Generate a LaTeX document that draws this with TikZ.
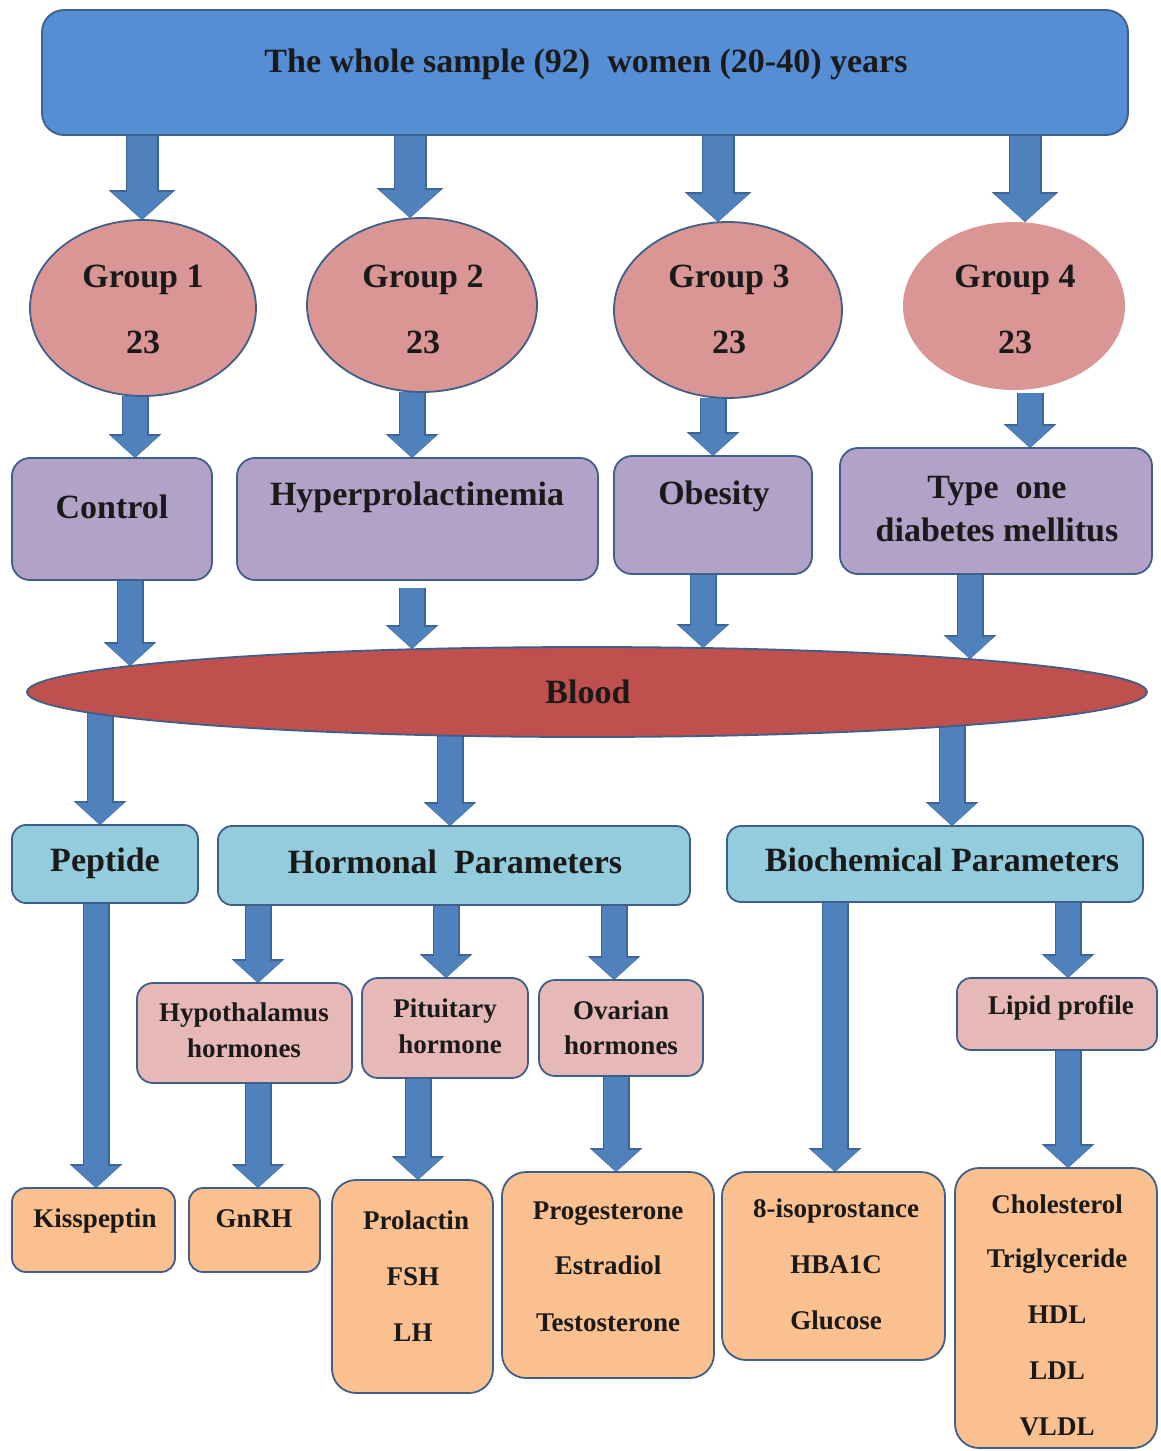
\documentclass[tikz,border=0pt]{standalone}
\usepackage{fontspec}
\setmainfont{Liberation Serif}
\usetikzlibrary{shapes.geometric,arrows.meta}
\definecolor{topblue}{HTML}{558ED5}
\definecolor{edgec}{HTML}{3E5F8A}
\definecolor{arrblue}{HTML}{4F81BD}
\definecolor{arrdark}{HTML}{3D6696}
\definecolor{grp}{HTML}{D99694}
\definecolor{purp}{HTML}{B3A2C7}
\definecolor{bloodc}{HTML}{C0504D}
\definecolor{lblue}{HTML}{93CDDD}
\definecolor{pinkc}{HTML}{E6B9B8}
\definecolor{orng}{HTML}{FAC090}
\definecolor{txtc}{HTML}{1A1A1A}
\pgfdeclarelayer{back}
\pgfdeclarelayer{bg}
\pgfsetlayers{back,bg,main}
\newcommand\myBig{\fontsize{34}{40}\selectfont\bfseries}
\newcommand\mySmall{\fontsize{27}{32}\selectfont\bfseries}
\newcommand\rbox[8]{\node[bx, fill=#2, rounded corners=#3pt, minimum width=#6pt, minimum height=#7pt, #8] (#1) at (#4,#5) {};}
\newcommand\tl[5]{\node[tx, font=#2] (#1) at (#3,#4) {#5};}
\newcommand\arA[2]{\draw[aAo] #1 -- #2; \draw[aA] #1 -- #2;}
\newcommand\arB[2]{\draw[aBo] #1 -- #2; \draw[aB] #1 -- #2;}
\begin{document}
\begin{tikzpicture}[x=1pt,y=-1pt,
  bx/.style={draw=edgec, line width=1.8pt, inner sep=0pt, outer sep=0pt},
  ell/.style={ellipse, draw=edgec, line width=1.8pt, inner sep=0pt, outer sep=0pt},
  tx/.style={anchor=base, inner sep=0pt, text=txtc},
  aA/.style={line width=30pt, draw=arrblue, -{Triangle[width=60pt,length=28pt,line width=0pt,color=arrblue]}},
  aAo/.style={line width=33pt, draw=arrdark, -{Triangle[width=67pt,length=30pt,line width=0pt,color=arrdark]}},
  aB/.style={line width=24pt, draw=arrblue, -{Triangle[width=47pt,length=22pt,line width=0pt,color=arrblue]}},
  aBo/.style={line width=27pt, draw=arrdark, -{Triangle[width=53pt,length=24pt,line width=0pt,color=arrdark]}}]
\useasboundingbox (0,0) rectangle (1160,1451);
\begin{pgfonlayer}{back}
\fill[white] (0,0) rectangle (1160,1451);
\end{pgfonlayer}

% ---- boxes ----
\rbox{top}{topblue}{22}{585}{72.5}{1086}{125}{}
\node[ell, fill=grp, minimum width=226pt, minimum height=176pt] (g1) at (143,308) {};
\node[ell, fill=grp, minimum width=230pt, minimum height=174pt] (g2) at (422,305) {};
\node[ell, fill=grp, minimum width=228pt, minimum height=176pt] (g3) at (728,310) {};
\node[ell, fill=grp, draw=none, minimum width=222pt, minimum height=168pt] (g4) at (1014,306) {};
\rbox{ctrl}{purp}{18}{112}{519}{200}{122}{}
\rbox{hyp}{purp}{18}{417.5}{519}{361}{122}{}
\rbox{obe}{purp}{18}{713}{515}{198}{118}{}
\rbox{tod}{purp}{18}{996}{511}{312}{126}{}
\node[ell, fill=bloodc, minimum width=1120pt, minimum height=90pt] (blood) at (587,692) {};
\rbox{pep}{lblue}{14}{105}{864}{186}{78}{}
\rbox{hor}{lblue}{14}{454}{865.5}{472}{79}{}
\rbox{bio}{lblue}{14}{935}{864}{416}{76}{}
\rbox{hyt}{pinkc}{16}{244.5}{1033}{215}{100}{}
\rbox{pit}{pinkc}{16}{445}{1028}{166}{100}{}
\rbox{ova}{pinkc}{16}{621}{1028}{164}{96}{}
\rbox{lip}{pinkc}{14}{1057}{1014}{200}{72}{}
\rbox{kis}{orng}{14}{93.5}{1230}{163}{84}{}
\rbox{gnr}{orng}{14}{254.5}{1230}{131}{84}{}
\rbox{pro}{orng}{24}{412.5}{1286.5}{161}{213}{}
\rbox{prg}{orng}{24}{608}{1275}{212}{206}{}
\rbox{iso}{orng}{24}{833.5}{1266}{223}{188}{}
\rbox{cho}{orng}{24}{1056}{1308}{202}{280}{}

% ---- texts ----
\tl{ttop}{\myBig}{586}{72}{The whole sample (92)\ \ women (20-40) years}
\tl{tg1a}{\myBig}{143}{287}{Group 1}
\tl{tg1b}{\myBig}{143}{353}{23}
\tl{tg2a}{\myBig}{423}{287}{Group 2}
\tl{tg2b}{\myBig}{423}{353}{23}
\tl{tg3a}{\myBig}{729}{287}{Group 3}
\tl{tg3b}{\myBig}{729}{353}{23}
\tl{tg4a}{\myBig}{1015}{287}{Group 4}
\tl{tg4b}{\myBig}{1015}{353}{23}
\tl{tctrl}{\myBig}{112}{518}{Control}
\tl{thyp}{\myBig}{417}{505}{Hyperprolactinemia}
\tl{tobe}{\myBig}{714}{504}{Obesity}
\tl{ttoda}{\myBig}{997}{498}{Type\ \ one}
\tl{ttodb}{\myBig}{997}{541}{diabetes mellitus}
\tl{tblood}{\myBig}{588}{703}{Blood}
\tl{tpep}{\myBig}{105}{871}{Peptide}
\tl{thor}{\myBig}{455}{873}{Hormonal\ \ Parameters}
\tl{tbio}{\myBig}{942}{871}{Biochemical Parameters}
\tl{thyta}{\mySmall}{244}{1021}{Hypothalamus}
\tl{thytb}{\mySmall}{244}{1057}{hormones}
\tl{tpita}{\mySmall}{445}{1017}{Pituitary}
\tl{tpitb}{\mySmall}{450}{1053}{hormone}
\tl{tovaa}{\mySmall}{621}{1019}{Ovarian}
\tl{tovab}{\mySmall}{621}{1054}{hormones}
\tl{tlip}{\mySmall}{1061}{1014}{Lipid profile}
\tl{tkis}{\mySmall}{95}{1227}{Kisspeptin}
\tl{tgnr}{\mySmall}{254}{1227}{GnRH}
\tl{tproa}{\mySmall}{416}{1229}{Prolactin}
\tl{tprob}{\mySmall}{413}{1285}{FSH}
\tl{tproc}{\mySmall}{413}{1341}{LH}
\tl{tprga}{\mySmall}{608}{1219}{Progesterone}
\tl{tprgb}{\mySmall}{608}{1274}{Estradiol}
\tl{tprgc}{\mySmall}{608}{1331}{Testosterone}
\tl{tisoa}{\mySmall}{836}{1217}{8-isoprostance}
\tl{tisob}{\mySmall}{836}{1273}{HBA1C}
\tl{tisoc}{\mySmall}{836}{1329}{Glucose}
\tl{tchoa}{\mySmall}{1057}{1213}{Cholesterol}
\tl{tchob}{\mySmall}{1057}{1267}{Triglyceride}
\tl{tchoc}{\mySmall}{1057}{1323}{HDL}
\tl{tchod}{\mySmall}{1057}{1379}{LDL}
\tl{tchoe}{\mySmall}{1057}{1435}{VLDL}

% ---- connector positions ----
\coordinate (xa1) at (142,0);
\coordinate (xa2) at (410,0);
\coordinate (xa3) at (718,0);
\coordinate (xa4) at (1025,0);
\coordinate (xb1) at (135,0);
\coordinate (xb2) at (412,0);
\coordinate (xb3) at (713,0);
\coordinate (xb4) at (1030,0);
\coordinate (xd1) at (100,0);
\coordinate (xd2) at (450,0);
\coordinate (xd3) at (952,0);
\coordinate (xe1) at (96,0);
\coordinate (xe2) at (258,0);
\coordinate (xe3) at (446,0);
\coordinate (xe4) at (614,0);
\coordinate (xe5) at (835,0);
\coordinate (xe6) at (1068,0);
\coordinate (xf2) at (418,0);
\coordinate (xf3) at (616,0);
\coordinate (bt1) at (130,666);
\coordinate (bt2) at (412,649);
\coordinate (bt3) at (703,648);
\coordinate (bt4) at (970,659);
\coordinate (hs) at ([yshift=-8pt]hyp.south);
\coordinate (g4s) at ([yshift=-3pt]g4.south);

\begin{pgfonlayer}{bg}
\arA{(top.south -| xa1)}{(g1.north -| xa1)}
\arA{(top.south -| xa2)}{(g2.north -| xa2)}
\arA{(top.south -| xa3)}{(g3.north -| xa3)}
\arA{(top.south -| xa4)}{(g4.north -| xa4)}
\arB{(g1.south -| xb1)}{(ctrl.north -| xb1)}
\arB{(g2.south -| xb2)}{(hyp.north -| xb2)}
\arB{(g3.south -| xb3)}{(obe.north -| xb3)}
\arB{(g4s -| xb4)}{(tod.north -| xb4)}
\arB{(ctrl.south -| bt1)}{(bt1)}
\arB{(hs -| bt2)}{(bt2)}
\arB{(obe.south -| bt3)}{(bt3)}
\arB{(tod.south -| bt4)}{(bt4)}
\arB{(blood.center -| xd1)}{(pep.north -| xd1)}
\arB{(blood.center -| xd2)}{(hor.north -| xd2)}
\arB{(blood.center -| xd3)}{(bio.north -| xd3)}
\arB{(pep.south -| xe1)}{(kis.north -| xe1)}
\arB{(hor.south -| xe2)}{(hyt.north -| xe2)}
\arB{(hor.south -| xe3)}{(pit.north -| xe3)}
\arB{(hor.south -| xe4)}{(ova.north -| xe4)}
\arB{(bio.south -| xe5)}{(iso.north -| xe5)}
\arB{(bio.south -| xe6)}{(lip.north -| xe6)}
\arB{(hyt.south -| xe2)}{(gnr.north -| xe2)}
\arB{(pit.south -| xf2)}{(pro.north -| xf2)}
\arB{(ova.south -| xf3)}{(prg.north -| xf3)}
\arB{(lip.south -| xe6)}{(cho.north -| xe6)}
\end{pgfonlayer}
\end{tikzpicture}
\end{document}
